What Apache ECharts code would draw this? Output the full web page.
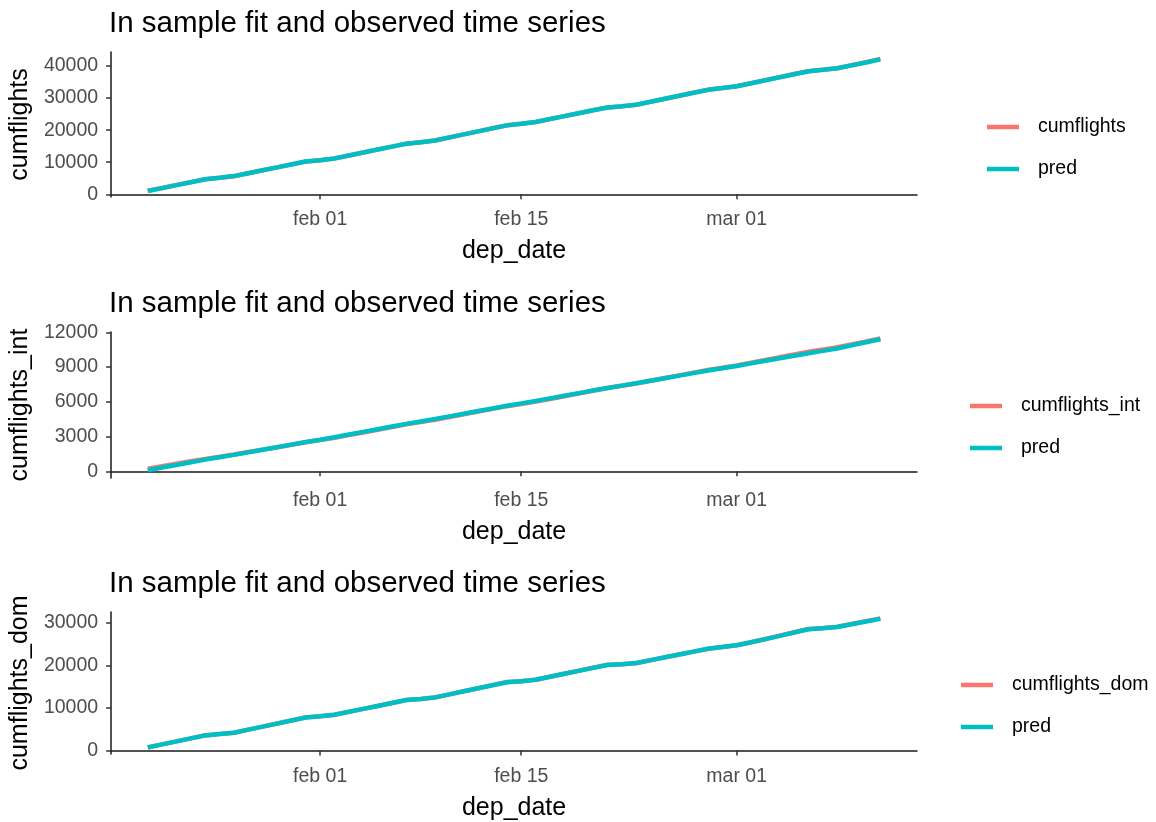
<!DOCTYPE html>
<html><head><meta charset="utf-8">
<script src="https://cdn.jsdelivr.net/npm/echarts@6/dist/echarts.min.js"></script>
<style>html,body{margin:0;padding:0;background:#fff}#c{width:1156px;height:822px}</style>
</head><body><div id="c"></div><script>
const dates = ['2020-01-20','2020-01-21','2020-01-22','2020-01-23','2020-01-24','2020-01-25','2020-01-26','2020-01-27','2020-01-28','2020-01-29','2020-01-30','2020-01-31',
'2020-02-01','2020-02-02','2020-02-03','2020-02-04','2020-02-05','2020-02-06','2020-02-07','2020-02-08','2020-02-09','2020-02-10','2020-02-11','2020-02-12','2020-02-13','2020-02-14','2020-02-15','2020-02-16','2020-02-17','2020-02-18','2020-02-19','2020-02-20','2020-02-21','2020-02-22','2020-02-23','2020-02-24','2020-02-25','2020-02-26','2020-02-27','2020-02-28','2020-02-29',
'2020-03-01','2020-03-02','2020-03-03','2020-03-04','2020-03-05','2020-03-06','2020-03-07','2020-03-08','2020-03-09','2020-03-10','2020-03-11'];

const cumflights = [1100,1990,2890,3810,4720,5140,5650,6570,7480,8400,9330,10260,10620,11180,12100,13020,13940,14860,15800,16220,16780,17730,18680,19630,20580,21520,22000,22540,23460,24380,25290,26200,27050,27420,27900,28840,29780,30720,31660,32600,33150,33700,34650,35600,36550,37500,38400,38850,39330,40260,41190,42250];
const predTotal = [1010,1930,2850,3780,4700,5160,5680,6580,7480,8390,9310,10230,10650,11200,12110,13030,13960,14880,15790,16240,16800,17740,18680,19620,20560,21500,21990,22550,23470,24390,25300,26220,27090,27460,27940,28870,29800,30730,31660,32580,33120,33690,34630,35570,36520,37460,38360,38820,39300,40220,41120,42080];

const cumflightsInt = [230,440,650,860,1070,1255,1450,1660,1870,2080,2295,2505,2690,2890,3120,3355,3590,3825,4060,4250,4450,4685,4920,5155,5390,5625,5815,6015,6250,6485,6720,6955,7190,7380,7580,7815,8050,8285,8520,8755,8945,9145,9380,9615,9850,10085,10320,10510,10710,10960,11210,11470];
const predInt = [90,320,550,780,1005,1210,1415,1635,1855,2075,2300,2525,2730,2945,3175,3405,3635,3865,4095,4300,4510,4740,4970,5200,5430,5660,5865,6075,6300,6525,6750,6975,7200,7400,7600,7820,8040,8260,8480,8700,8900,9100,9320,9540,9760,9980,10200,10400,10610,10880,11140,11400];

const cumflightsDom = [690,1400,2110,2830,3540,3820,4150,4870,5590,6320,7040,7760,8010,8370,9060,9750,10440,11130,11820,12080,12440,13160,13890,14610,15340,16060,16250,16590,17300,18010,18710,19420,20120,20230,20500,21180,21860,22530,23210,23890,24300,24700,25420,26200,26980,27770,28560,28760,29050,29720,30380,31040];
const predDom = [700,1410,2110,2820,3520,3830,4160,4870,5580,6300,7020,7740,8020,8380,9070,9760,10450,11140,11830,12100,12460,13170,13890,14600,15320,16030,16260,16610,17310,18010,18700,19400,20090,20260,20540,21210,21880,22550,23220,23880,24300,24700,25410,26170,26930,27710,28490,28720,29020,29670,30300,30920];

const tickDates = ['2020-02-01','2020-02-15','2020-03-01'];
const tickLabels = ['feb 01','feb 15','mar 01'];
const yTicks1 = [0,10000,20000,30000,40000];
const yTicks2 = [0,3000,6000,9000,12000];
const yTicks3 = [0,10000,20000,30000];
const panelTitle = 'In sample fit and observed time series';
const xName = 'dep_date';
const yNames = ['cumflights','cumflights_int','cumflights_dom'];

const ts = s => { const p = s.split('-').map(Number); return Date.UTC(p[0], p[1]-1, p[2]); };
const DAY = 86400000;
const xMin = ts(dates[0]) - 2.55*DAY;
const xMax = ts(dates[dates.length-1]) + 2.55*DAY;
const tickTs = tickDates.map(ts);
const pairs = vals => vals.map((v,i) => [ts(dates[i]), v]);

const RED = '#F8766D', CYAN = '#00BFC4';
const FONT = 'Liberation Sans, Arial, sans-serif';

const gridTops = [52, 332, 612];
const gridHeights = [145, 146, 145];
const yRanges = [[-840, 44380], [-580, 12030], [-852, 32535]];
const yTicks = [yTicks1, yTicks2, yTicks3];
const obs = [cumflights, cumflightsInt, cumflightsDom];
const preds = [predTotal, predInt, predDom];
const legendPos = [[982, 110], [965, 389], [956, 668]];

const option = {
  animation: false,
  backgroundColor: '#fff',
  textStyle: { fontFamily: FONT },
  title: gridTops.map(t => ({
    text: panelTitle, left: 104, top: t - 48,
    textStyle: { fontFamily: FONT, fontSize: 29.5, fontWeight: 'normal', color: '#000' }
  })),
  grid: gridTops.map((t, i) => ({ left: 109, top: t, width: 808, height: gridHeights[i], containLabel: false })),
  legend: legendPos.map((p, i) => ({
    orient: 'vertical', left: p[0], top: p[1],
    data: [yNames[i], 'pred'], icon: 'rect', itemWidth: 32, itemHeight: 4.5, itemGap: 18,
    textStyle: { fontFamily: FONT, fontSize: 19.5, color: '#000', lineHeight: 24, padding: [0, 0, 0, 14] },
    selectedMode: false
  })),
  xAxis: gridTops.map((t, i) => ({
    type: 'value', gridIndex: i, min: xMin, max: xMax,
    name: xName, nameLocation: 'middle', nameGap: 42,
    nameTextStyle: { fontFamily: FONT, fontSize: 25, color: '#000' },
    axisLine: { show: true, lineStyle: { color: '#1a1a1a', width: 1.5 } },
    axisTick: { show: true, length: 5, customValues: tickTs, lineStyle: { color: '#333', width: 1.5 } },
    axisLabel: { customValues: tickTs, margin: 13, fontFamily: FONT, fontSize: 19.5, color: '#4D4D4D',
      formatter: v => { let best = 0; tickTs.forEach((x, k) => { if (Math.abs(x - v) < Math.abs(tickTs[best] - v)) best = k; }); return tickLabels[best]; } },
    splitLine: { show: false }
  })),
  yAxis: gridTops.map((t, i) => ({
    type: 'value', gridIndex: i, min: yRanges[i][0], max: yRanges[i][1],
    name: yNames[i], nameLocation: 'middle', nameGap: 78, nameRotate: 90,
    nameTextStyle: { fontFamily: FONT, fontSize: 25, color: '#000' },
    axisLine: { show: true, lineStyle: { color: '#1a1a1a', width: 1.5 } },
    axisTick: { show: true, length: 5, customValues: yTicks[i], lineStyle: { color: '#333', width: 1.5 } },
    axisLabel: { customValues: yTicks[i], margin: 13, fontFamily: FONT, fontSize: 19.5, color: '#4D4D4D', formatter: v => String(v) },
    splitLine: { show: false }
  })),
  series: []
};
for (let i = 0; i < 3; i++) {
  option.series.push({ name: yNames[i], type: 'line', xAxisIndex: i, yAxisIndex: i, data: pairs(obs[i]),
    showSymbol: false, symbol: 'none', color: RED, lineStyle: { color: RED, width: 4.5 }, z: 2 });
  option.series.push({ name: 'pred', type: 'line', xAxisIndex: i, yAxisIndex: i, data: pairs(preds[i]),
    showSymbol: false, symbol: 'none', color: CYAN, lineStyle: { color: CYAN, width: 4.5 }, z: 3 });
}
const chart = echarts.init(document.getElementById('c'), null, { renderer: 'canvas' });
chart.setOption(option);
</script></body></html>
